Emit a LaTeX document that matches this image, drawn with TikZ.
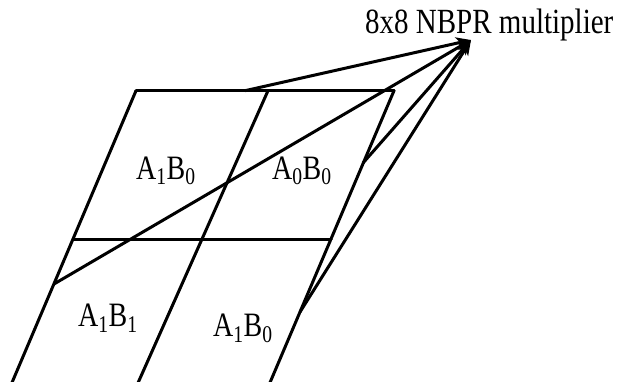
\documentclass[tikz,border=0pt]{standalone}
\usepackage{fontspec}
\setmainfont{Liberation Serif}
\usetikzlibrary{arrows.meta}
\newcommand{\vstretch}[1]{\scalebox{1}[1.22]{#1}}
\begin{document}
\begin{tikzpicture}[x=1pt,y=-1pt,
  edge/.style={line width=3pt,line cap=round,line join=miter},
  arr/.style={line width=3pt,-{Stealth[length=15pt,width=12pt,inset=4pt]}},
  lbl/.style={inner sep=0pt,anchor=base west,font=\fontsize{28}{32}\selectfont},
  ttl/.style={inner sep=0pt,anchor=base west,font=\fontsize{29}{34}\selectfont}]
\useasboundingbox (0,0) rectangle (620,382);
\clip (0,0) rectangle (620,382);
% grid corners
\coordinate (TL) at (136,90.7);
\coordinate (TM) at (268,90.7);
\coordinate (TR) at (394,90.7);
\coordinate (ML) at (73,239);
\coordinate (MR) at (331,239);
\coordinate (BL) at (4.6,400);
\coordinate (BM) at (130.4,400);
\coordinate (BR) at (262.6,400);
% arrow start points and tip
\coordinate (S1) at (245,90.7);
\coordinate (S2) at (54,284);
\coordinate (S3) at (363,163);
\coordinate (S4) at (300,312);
\coordinate (tip) at (471,40);
% grid lines
\draw[edge] (TL) -- (TR);
\draw[edge] (ML) -- (MR);
\draw[edge] (TL) -- (BL);
\draw[edge] (TM) -- (BM);
\draw[edge] (TR) -- (BR);
% arrows
\draw[arr] (S1) -- (tip);
\draw[arr] (S2) -- (tip);
\draw[arr] (S3) -- (tip);
\draw[arr] (S4) -- (tip);
% labels
\node[lbl] (l1) at (136,179.3) {\vstretch{A\textsubscript{1}B\textsubscript{0}}};
\node[lbl] (l2) at (272,179.3) {\vstretch{A\textsubscript{0}B\textsubscript{0}}};
\node[lbl] (l3) at (78,326.7) {\vstretch{A\textsubscript{1}B\textsubscript{1}}};
\node[lbl] (l4) at (213,336.7) {\vstretch{A\textsubscript{1}B\textsubscript{0}}};
\node[ttl] (title) at (365,34) {\vstretch{8x8 NBPR multiplier}};
\end{tikzpicture}
\end{document}
